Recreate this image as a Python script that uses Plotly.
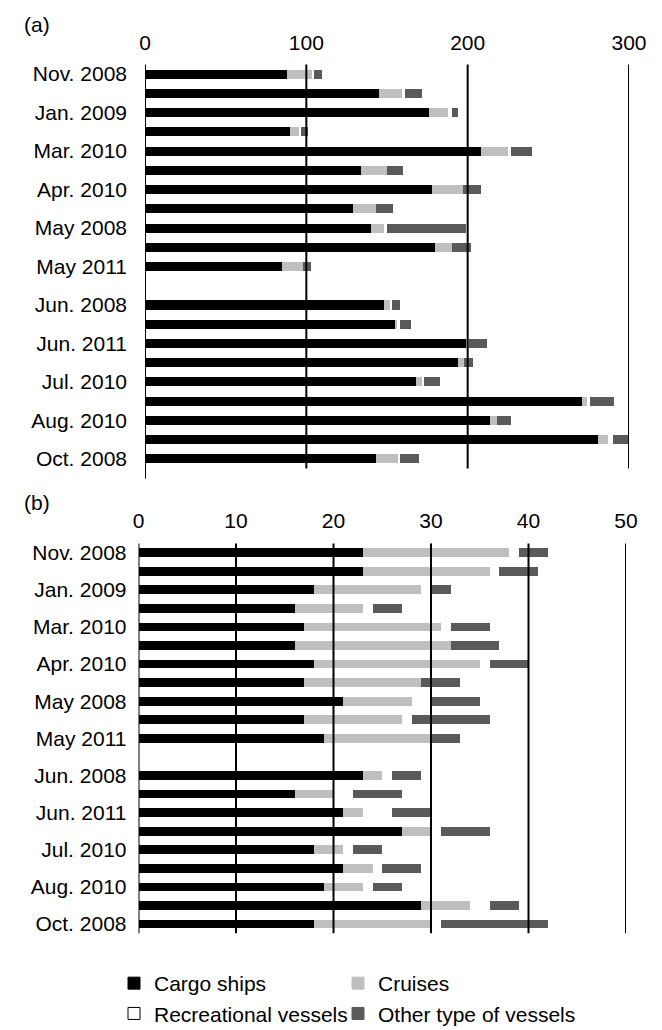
import plotly.graph_objects as go

# ---------------- data ----------------
categories = ["Nov. 2008", "Dec. 2008", "Jan. 2009", "Feb. 2009", "Mar. 2010",
              "Mar. 2011", "Apr. 2010", "Apr. 2011", "May 2008", "May 2010",
              "May 2011", " ", "Jun. 2008", "Jun. 2010", "Jun. 2011",
              "Jul. 2008", "Jul. 2010", "Jul. 2011", "Aug. 2010", "Aug. 2011",
              "Oct. 2008"]
shown_labels = categories[0::2]

series_names = ["Cargo ships", "Cruises", "Recreational vessels", "Other type of vessels"]

# panel (a)
cargo_a = [88, 145, 176, 90, 208, 134, 178, 129, 140, 180, 85, None,
           148, 155, 199, 194, 168, 271, 214, 281, 143]
cruise_a = [16, 14, 12, 6, 17, 16, 19, 14, 8, 10, 13, None,
            4, 1, 2, 4, 4, 3, 4, 6, 14]
recre_a = [1, 2, 2, 1, 2, 0, 0, 0, 2, 0, 0, None,
           1, 2, 0, 0, 1, 2, 0, 3, 1]
other_a = [5, 11, 4, 4, 13, 10, 11, 11, 49, 12, 5, None,
           5, 7, 11, 5, 10, 15, 9, 15, 12]

# panel (b)
cargo_b = [23, 23, 18, 16, 17, 16, 18, 17, 21, 17, 19, None,
           23, 16, 21, 27, 18, 21, 19, 29, 18]
cruise_b = [15, 13, 11, 7, 14, 16, 17, 12, 7, 10, 11, None,
            2, 4, 2, 3, 3, 3, 4, 5, 12]
recre_b = [1, 1, 1, 1, 1, 0, 1, 0, 2, 1, 0, None,
           1, 2, 3, 1, 1, 1, 1, 2, 1]
other_b = [3, 4, 2, 3, 4, 5, 4, 4, 5, 8, 3, None,
           3, 5, 4, 5, 3, 4, 3, 3, 11]

ticks_a = [0, 100, 200, 300]
ticks_b = [0, 10, 20, 30, 40, 50]

# ---------------- style ----------------
colors = ["#000000", "#bfbfbf", "#ffffff", "#5a5a5a"]
legend_of = ["legend", "legend2", "legend", "legend2"]
FONT = "Liberation Sans, Arial, sans-serif"

fig = go.Figure()

panels = [
    ([cargo_a, cruise_a, recre_a, other_a], "x", "y"),
    ([cargo_b, cruise_b, recre_b, other_b], "x2", "y2"),
]
for values, xa, ya in panels:
    for name, vals, col in zip(series_names, values, colors):
        fig.add_trace(go.Bar(
            x=vals, y=categories, orientation="h", name=name,
            marker=dict(color=col, line=dict(width=0)),
            showlegend=False, xaxis=xa, yaxis=ya,
        ))

# legend entries (two legend columns, as in the original)
for name, col, lg in zip(series_names, colors, legend_of):
    fig.add_trace(go.Bar(
        x=[None], y=[categories[0]], orientation="h", name=name,
        marker=dict(color=col, line=dict(color="#000000" if col == "#ffffff" else col, width=1)),
        showlegend=True, legend=lg, legendgroup=name, xaxis="x", yaxis="y",
    ))

# vertical grid lines drawn above the bars
shapes = []
for t in ticks_a:
    shapes.append(dict(type="line", xref="x", yref="y domain", x0=t, x1=t,
                       y0=-0.025 if t == 0 else 0, y1=1,
                       line=dict(color="black", width=2), layer="above"))
for t in ticks_b:
    shapes.append(dict(type="line", xref="x2", yref="y2 domain", x0=t, x1=t,
                       y0=0, y1=1, line=dict(color="black", width=2), layer="above"))

axis_font = dict(family=FONT, size=21, color="black")
legend_common = dict(orientation="v", xanchor="left", y=1 - 963 / 1030, yanchor="top",
                     font=axis_font, bgcolor="rgba(0,0,0,0)", traceorder="normal",
                     tracegroupgap=3)

fig.update_layout(
    width=662, height=1030,
    margin=dict(l=0, r=0, t=0, b=0, autoexpand=False),
    paper_bgcolor="white", plot_bgcolor="white",
    barmode="stack", bargap=0.53,
    font=axis_font,
    shapes=shapes,
    xaxis=dict(domain=[145 / 662, 629 / 662], range=[0, 300], side="top",
               tickvals=ticks_a, showgrid=False, zeroline=False, showline=False,
               ticks="", ticklabelstandoff=9, tickfont=axis_font, anchor="y"),
    yaxis=dict(domain=[1 - 468.5 / 1030, 1 - 64.5 / 1030], type="category",
               categoryorder="array", categoryarray=categories,
               range=[20.5, -0.5], tickvals=shown_labels, showgrid=False,
               zeroline=False, showline=False, ticks="", ticklabelstandoff=17,
               tickfont=axis_font, anchor="x"),
    xaxis2=dict(domain=[138.5 / 662, 626 / 662], range=[0, 50], side="top",
                tickvals=ticks_b, showgrid=False, zeroline=False, showline=False,
                ticks="", ticklabelstandoff=10, tickfont=axis_font, anchor="y2"),
    yaxis2=dict(domain=[1 - 933.3 / 1030, 1 - 543.4 / 1030], type="category",
                categoryorder="array", categoryarray=categories,
                range=[20.5, -0.5], tickvals=shown_labels, showgrid=False,
                zeroline=False, showline=False, ticks="", ticklabelstandoff=11,
                tickfont=axis_font, anchor="x2"),
    legend=dict(x=114 / 662, **legend_common),
    legend2=dict(x=338 / 662, **legend_common),
    annotations=[
        dict(text="(a)", x=22 / 662, y=1 - 25 / 1030, xref="paper", yref="paper",
             xanchor="left", yanchor="middle", showarrow=False, font=axis_font),
        dict(text="(b)", x=22 / 662, y=1 - 502 / 1030, xref="paper", yref="paper",
             xanchor="left", yanchor="middle", showarrow=False, font=axis_font),
    ],
)

fig.write_html("out.html", config={"displayModeBar": False},
               post_script="document.body.style.margin='0';")
